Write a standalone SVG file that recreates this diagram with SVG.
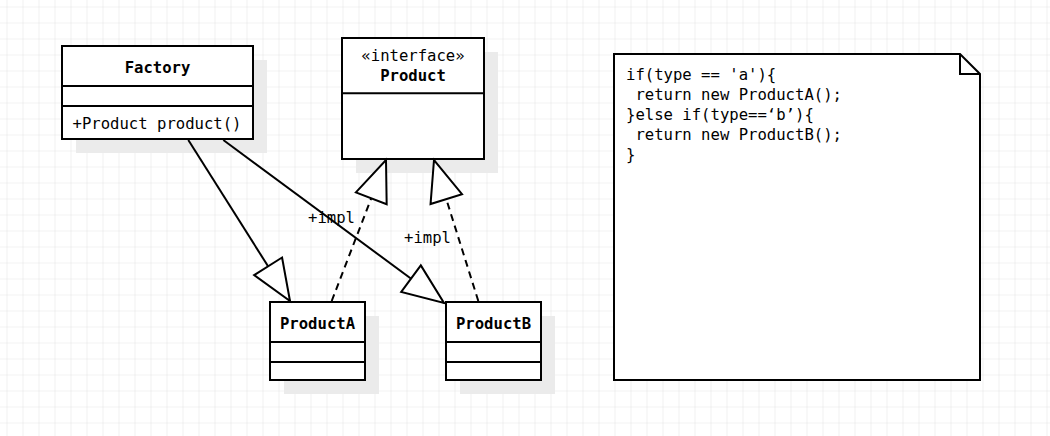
<svg xmlns="http://www.w3.org/2000/svg" width="1050" height="436" viewBox="0 0 1050 436">
<style>
.box{fill:#ffffff;stroke:#000000;stroke-width:2}
.shadow{fill:#ebebeb;stroke:none}
.div{stroke:#000000;stroke-width:2;fill:none}
.t{font-family:"DejaVu Sans Mono","Liberation Mono",monospace;font-size:15.6px;fill:#000000}
.b{font-weight:bold}
.c{text-anchor:middle}
.edge{stroke:#000000;stroke-width:2;fill:none}
.dash{stroke-dasharray:7 5}
</style>
<defs>
<pattern id="grid" x="6.5" y="6.5" width="16" height="16" patternUnits="userSpaceOnUse">
<path d="M0,0 H16 M0,0 V16" stroke="#e6e6e6" stroke-width="1.2" fill="none"/>
</pattern>
<marker id="tri" markerUnits="userSpaceOnUse" markerWidth="46" markerHeight="38" viewBox="0 0 46 38" refX="43" refY="18.5" orient="auto">
<path d="M2,2 L43,18.5 L2,35 Z" fill="#ffffff" stroke="#000000" stroke-width="2" stroke-dasharray="none"/>
</marker>
</defs>
<rect x="0" y="0" width="1050" height="436" fill="#ffffff"/>
<rect x="0" y="0" width="1050" height="436" fill="url(#grid)"/>

<g id="factory">
<rect class="shadow" x="76" y="60" width="191" height="93"/>
<rect class="box" x="62" y="46" width="191" height="93"/>
<line class="div" x1="62" y1="86" x2="253" y2="86"/>
<line class="div" x1="62" y1="106" x2="253" y2="106"/>
<text class="t b c" x="157.5" y="72.7">Factory</text>
<text class="t" x="72.5" y="128.7">+Product product()</text>
</g>

<g id="product">
<rect class="shadow" x="356" y="52" width="142" height="121"/>
<rect class="box" x="342" y="38" width="142" height="121"/>
<line class="div" x1="342" y1="93.3" x2="484" y2="93.3"/>
<text class="t c" x="413" y="61">«interface»</text>
<text class="t b c" x="413" y="80.7">Product</text>
</g>

<g id="productA">
<rect class="shadow" x="284" y="316" width="95" height="78"/>
<rect class="box" x="270" y="302" width="95" height="78"/>
<line class="div" x1="270" y1="342" x2="365" y2="342"/>
<line class="div" x1="270" y1="362" x2="365" y2="362"/>
<text class="t b c" x="317.5" y="329">ProductA</text>
</g>

<g id="productB">
<rect class="shadow" x="460" y="316" width="95" height="78"/>
<rect class="box" x="446" y="302" width="95" height="78"/>
<line class="div" x1="446" y1="342" x2="541" y2="342"/>
<line class="div" x1="446" y1="362" x2="541" y2="362"/>
<text class="t b c" x="493.5" y="329">ProductB</text>
</g>

<g id="note">
<path class="box" d="M614,54 H960 L980,74 V380 H614 Z"/>
<path class="div" d="M960,54 V74 H980"/>
<text class="t" x="626" y="80">if(type == 'a'){</text>
<text class="t" x="626" y="100" xml:space="preserve"> return new ProductA();</text>
<text class="t" x="626" y="120">}else if(type==‘b’){</text>
<text class="t" x="626" y="140" xml:space="preserve"> return new ProductB();</text>
<text class="t" x="626" y="160">}</text>
</g>

<g id="connectors">
<line class="edge" x1="188.3" y1="140" x2="290" y2="301" marker-end="url(#tri)"/>
<line class="edge" x1="223.3" y1="140" x2="444" y2="303" marker-end="url(#tri)"/>
<line class="edge dash" x1="331.7" y1="301" x2="386" y2="160" marker-end="url(#tri)"/>
<line class="edge dash" x1="478.3" y1="301" x2="434" y2="160" marker-end="url(#tri)"/>
<text class="t" x="308" y="222.7">+impl</text>
<text class="t" x="404" y="242.7">+impl</text>
</g>
</svg>
